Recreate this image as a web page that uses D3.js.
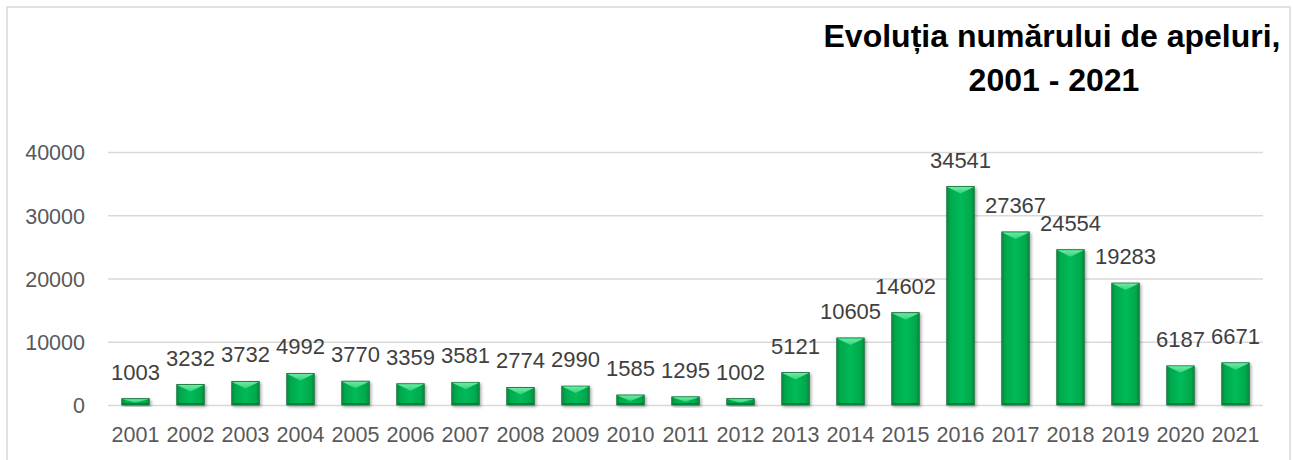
<!DOCTYPE html>
<html>
<head>
<meta charset="utf-8">
<title>Evoluția numărului de apeluri</title>
<style>
body { margin: 0; background: #fff; }
svg { display: block; }
.tick text { font-family: 'Liberation Sans', Arial, sans-serif; font-size: 21.5px; fill: #595959; }
.grid line { stroke: #d9d9d9; stroke-width: 1.5; }
.lbl { font-family: 'Liberation Sans', Arial, sans-serif; font-size: 22px; fill: #404040; text-anchor: middle; }
.title { font-family: 'Liberation Sans', Arial, sans-serif; font-weight: bold; font-size: 32px; fill: #000; text-anchor: middle; }
</style>
</head>
<body>
<svg></svg>
<script src="https://d3js.org/d3.v7.min.js"></script>
<script>
const years = ['2001','2002','2003','2004','2005','2006','2007','2008','2009','2010','2011',
               '2012','2013','2014','2015','2016','2017','2018','2019','2020','2021'];
const calls = [1003, 3232, 3732, 4992, 3770, 3359, 3581, 2774, 2990, 1585, 1295,
               1002, 5121, 10605, 14602, 34541, 27367, 24554, 19283, 6187, 6671];
const yTicks = [0, 10000, 20000, 30000, 40000];
const titleLines = ['Evoluția numărului de apeluri,', '2001 - 2021'];

const W = 1293, H = 460;
const plot = { left: 108, right: 1263, top: 152, bottom: 405 };

const svg = d3.select('svg').attr('width', W).attr('height', H);

const defs = svg.append('defs');
const grad = defs.append('linearGradient').attr('id', 'barGrad')
  .attr('x1', 0).attr('x2', 1).attr('y1', 0).attr('y2', 0);
[[0, '#0a8a40'], [0.12, '#00a84c'], [0.5, '#00bb58'], [0.88, '#00a84c'], [1, '#0a8a40']]
  .forEach(s => grad.append('stop').attr('offset', s[0]).attr('stop-color', s[1]));
const topGrad = defs.append('linearGradient').attr('id', 'topGrad')
  .attr('x1', 0).attr('x2', 0).attr('y1', 0).attr('y2', 1);
[[0, '#6fe9a4'], [1, '#2fd47a']]
  .forEach(s => topGrad.append('stop').attr('offset', s[0]).attr('stop-color', s[1]));
const shadow = defs.append('filter').attr('id', 'shadow')
  .attr('x', '-20%').attr('y', '-20%').attr('width', '150%').attr('height', '150%');
shadow.append('feDropShadow').attr('dx', 1.5).attr('dy', 1.5).attr('stdDeviation', 1.5)
  .attr('flood-color', '#000').attr('flood-opacity', 0.35);

// chart frame
svg.append('rect').attr('x', 7).attr('y', 7).attr('width', 1283).attr('height', 470)
  .attr('fill', '#fff').attr('stroke', '#d9d9d9').attr('stroke-width', 1.5);

const x = d3.scaleBand().domain(years).range([plot.left, plot.right])
  .paddingInner(0.5).paddingOuter(0.25);
const y = d3.scaleLinear().domain([0, 40000]).range([plot.bottom, plot.top]);

// gridlines + y labels
svg.append('g').attr('class', 'grid')
  .attr('transform', `translate(${plot.left},0)`)
  .call(d3.axisLeft(y).tickValues(yTicks).tickSize(-(plot.right - plot.left)).tickPadding(23).tickFormat(d3.format('d')))
  .call(g => g.select('.domain').remove())
  .call(g => g.selectAll('.tick text').attr('dy', '0.36em'));

// x labels
svg.append('g')
  .attr('transform', `translate(0,${plot.bottom})`)
  .call(d3.axisBottom(x).tickSize(0).tickPadding(22))
  .call(g => g.select('.domain').remove())
  .call(g => g.selectAll('.tick text').attr('dy', '0.71em'));

const data = years.map((yr, i) => ({ yr, v: calls[i] }));

const bars = svg.append('g').selectAll('g').data(data).join('g');

bars.append('rect')
  .attr('x', d => x(d.yr))
  .attr('y', d => y(d.v))
  .attr('width', x.bandwidth())
  .attr('height', d => y(0) - y(d.v))
  .attr('fill', 'url(#barGrad)')
  .attr('stroke', '#0b6e35').attr('stroke-width', 0.8)
  .attr('filter', 'url(#shadow)');

// top bevel face
bars.append('path')
  .attr('d', d => {
    const x0 = x(d.yr), w = x.bandwidth(), t = y(d.v);
    const h = Math.min(7, (y(0) - t) * 0.6);
    return `M${x0 + 0.5},${t + 0.5}L${x0 + w - 0.5},${t + 0.5}L${x0 + w / 2},${t + h}Z`;
  })
  .attr('fill', 'url(#topGrad)');

// bottom darker strip
bars.append('rect')
  .attr('x', d => x(d.yr) + 0.5)
  .attr('y', y(0) - 2)
  .attr('width', x.bandwidth() - 1)
  .attr('height', 1.5)
  .attr('fill', '#087a3a');

// value labels
svg.append('g').selectAll('text').data(data).join('text')
  .attr('class', 'lbl')
  .attr('x', d => x(d.yr) + x.bandwidth() / 2)
  .attr('y', d => y(d.v) - 19)
  .text(d => d.v);

// title
const title = svg.append('g');
title.append('text').attr('class', 'title')
  .attr('x', 1052).attr('y', 47)
  .text(titleLines[0]);
title.append('text').attr('class', 'title')
  .attr('x', 1054).attr('y', 91)
  .text(titleLines[1]);
</script>
</body>
</html>
